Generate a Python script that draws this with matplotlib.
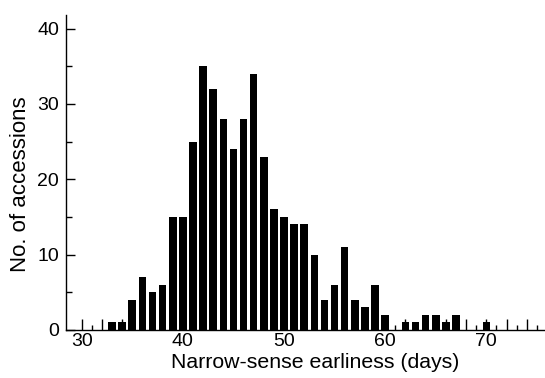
import matplotlib
matplotlib.use("Agg")
import matplotlib.pyplot as plt
import numpy as np

days = list(range(30, 76))
counts = [0, 0, 0, 1, 1, 4, 7, 5, 6, 15,
          15, 25, 35, 32, 28, 24, 28, 34, 23, 16,
          15, 14, 14, 10, 4, 6, 11, 4, 3, 6,
          2, 0, 1, 1, 2, 2, 1, 2, 0, 0,
          1, 0, 0, 0, 0, 0]
major_x = [30, 40, 50, 60, 70]
y_ticks = [0, 10, 20, 30, 40]
y_minor = [5, 15, 25, 35]
xlabel = "Narrow-sense earliness (days)"
ylabel = "No. of accessions"

plt.rcParams['font.family'] = ['Liberation Sans', 'DejaVu Sans']

fig = plt.figure(figsize=(5.45, 3.78), dpi=100)
ax = fig.add_axes([66/545, 48/378, 1 - 66/545, (330-15)/378])

ax.bar(days, counts, width=0.75, color='black', linewidth=0, zorder=1)

ax.set_xlim(28.45, 75.8)
ax.set_ylim(0, 41.8)

for s in ['top', 'right']:
    ax.spines[s].set_visible(False)
for s in ['left', 'bottom']:
    ax.spines[s].set_linewidth(1.0)

# x ticks: tall at even days, short at odd days; labels at tens
even_days = [d for d in days if d % 2 == 0]
odd_days = [d for d in days if d % 2 == 1]
ax.set_xticks(even_days)
ax.set_xticklabels([str(d) if d in major_x else '' for d in even_days])
ax.set_xticks(odd_days, minor=True)
ax.tick_params(axis='x', which='major', direction='in', length=8, width=1.0,
               labelsize=14, pad=2)
ax.tick_params(axis='x', which='minor', direction='in', length=3.6, width=1.0)

ax.set_yticks(y_ticks)
ax.set_yticks(y_minor, minor=True)
ax.tick_params(axis='y', which='major', direction='in', length=6.5, width=1.0,
               labelsize=14, pad=5)
ax.tick_params(axis='y', which='minor', direction='in', length=4, width=1.0)

ax.set_xlabel(xlabel, fontsize=15.3)
ax.set_ylabel(ylabel, fontsize=16)
ax.xaxis.set_label_coords((315-66)/479, -(353-330)/315)
ax.yaxis.set_label_coords(-(66-31)/479, (330-184)/315)

fig.savefig("out.png", dpi=100)
